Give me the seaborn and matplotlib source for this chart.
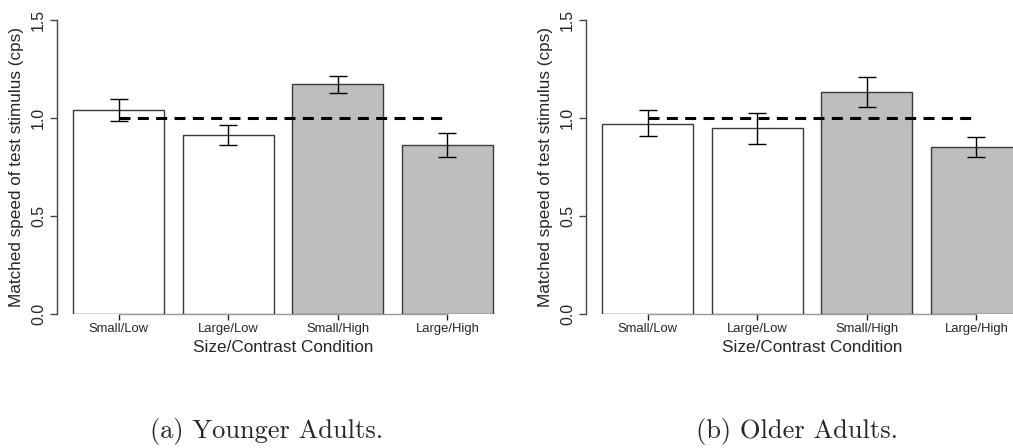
import matplotlib
matplotlib.use("Agg")
import matplotlib.pyplot as plt
import seaborn as sns
import pandas as pd

conditions = ["Small/Low", "Large/Low", "Small/High", "Large/High"]
fill_colors = ["#ffffff", "#ffffff", "#bebebe", "#bebebe"]

younger_mean = [1.042, 0.913, 1.172, 0.864]
younger_lo = [0.983, 0.862, 1.128, 0.803]
younger_hi = [1.098, 0.966, 1.214, 0.925]

older_mean = [0.971, 0.947, 1.134, 0.850]
older_lo = [0.906, 0.867, 1.056, 0.799]
older_hi = [1.039, 1.026, 1.209, 0.903]

reference_speed = 1.0
y_ticks = [0.0, 0.5, 1.0, 1.5]
y_label = "Matched speed of test stimulus (cps)"
x_label = "Size/Contrast Condition"
captions = ["(a) Younger Adults.", "(b) Older Adults."]

sns.set_style("white")
plt.rcParams["font.family"] = ["Liberation Sans", "DejaVu Sans"]

fig = plt.figure(figsize=(10.13, 4.48), dpi=100)
W, H = 1013, 448
ax_w = 452 / W
ax_h = 294 / H
ax_b = (H - 314) / H
axes = [fig.add_axes([57 / W, ax_b, ax_w, ax_h]),
        fig.add_axes([586 / W, ax_b, ax_w, ax_h])]

panels = [(younger_mean, younger_lo, younger_hi), (older_mean, older_lo, older_hi)]

for ax, (mean, lo, hi) in zip(axes, panels):
    df = pd.DataFrame({"cond": conditions, "val": mean})
    sns.barplot(data=df, x="cond", y="val", hue="cond", palette=fill_colors,
                legend=False, width=1 / 1.2, edgecolor="#3a3a3a", linewidth=1.0,
                ax=ax, errorbar=None, zorder=2)
    xs = list(range(len(conditions)))
    yerr = [[m - l for m, l in zip(mean, lo)], [h - m for m, h in zip(mean, hi)]]
    ax.errorbar(xs, mean, yerr=yerr, fmt="none", ecolor="black", elinewidth=1.0,
                capsize=6.5, capthick=1.0, zorder=4)
    ax.plot([xs[0], xs[-1]], [reference_speed, reference_speed], color="black",
            lw=2.2, dashes=(3.6, 2.4), zorder=5)
    ax.set_xlim(-0.563, 3.563)
    ax.set_ylim(0, 1.5)
    for s in ["top", "right"]:
        ax.spines[s].set_visible(False)
    ax.spines["left"].set_bounds(0, 1.5)
    ax.spines["left"].set_color("#444444")
    ax.spines["left"].set_linewidth(1.0)
    ax.spines["bottom"].set_bounds(0, 3)
    ax.spines["bottom"].set_color("#9a9a9a")
    ax.spines["bottom"].set_linewidth(1.0)
    ax.spines["bottom"].set_zorder(1)
    ax.set_yticks(y_ticks)
    ax.set_yticklabels([f"{t:.1f}" for t in y_ticks], rotation=90, va="center",
                       fontsize=11.4)
    ax.tick_params(axis="y", length=5, width=1.0, color="#444444", pad=3, left=True)
    ax.tick_params(axis="x", length=4.5, width=1.0, color="#222222", pad=2,
                   labelsize=9.4, bottom=True)
    ax.set_xlabel(x_label, fontsize=12.3)
    ax.set_ylabel(y_label, fontsize=12.3)
    ax.xaxis.set_label_coords(0.5 + (0 / W), -0.088)
    ax.yaxis.set_label_coords(-0.072, 0.5)
    ax.set_facecolor("white")

fig.text(267 / W, 1 - 431 / H, captions[0], family="cmr10", fontsize=19,
         ha="center", va="center")
fig.text(797 / W, 1 - 431 / H, captions[1], family="cmr10", fontsize=19,
         ha="center", va="center")

fig.savefig("out.png", dpi=100, facecolor="white")
